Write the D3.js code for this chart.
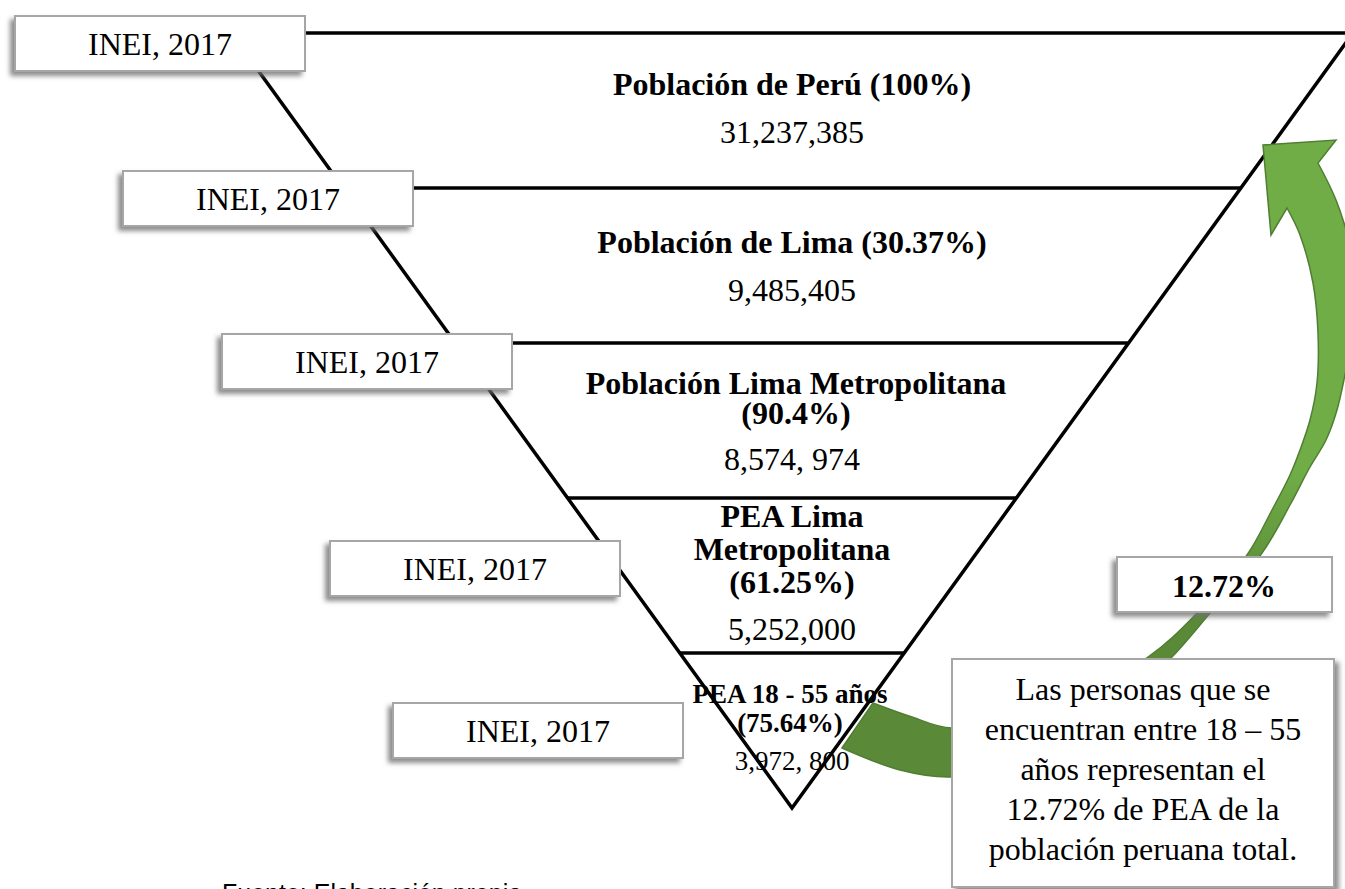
<!DOCTYPE html>
<html>
<head>
<meta charset="utf-8">
<script src="https://cdn.jsdelivr.net/npm/d3@7"></script>
<style>
  body { margin: 0; background: #fff; }
  svg { display: block; }
</style>
</head>
<body>
<svg id="chart" width="1345" height="889"></svg>
<script>
// ---------------- DATA ----------------
const levelTitles = [
  ["Población de Perú (100%)"],
  ["Población de Lima (30.37%)"],
  ["Población Lima Metropolitana", "(90.4%)"],
  ["PEA Lima", "Metropolitana", "(61.25%)"],
  ["PEA 18 - 55 años", "(75.64%)"]
];
const levelValues = ["31,237,385", "9,485,405", "8,574, 974", "5,252,000", "3,972, 800"];
const levelSources = ["INEI, 2017", "INEI, 2017", "INEI, 2017", "INEI, 2017", "INEI, 2017"];
const shareLabel = "12.72%";
const noteLines = [
  "Las personas que se",
  "encuentran entre 18 – 55",
  "años representan el",
  "12.72% de PEA de la",
  "población peruana total."
];
const footnote = "Fuente: Elaboración propia";

// ---------------- LAYOUT ----------------
const W = 1345, H = 889;
const svg = d3.select("#chart");
const serif = "'Liberation Serif', 'Times New Roman', serif";

const cx = 792;                         // apex x
const y = d3.scaleLinear().domain([0, levelTitles.length]).range([33, 808]);
const half = d3.scaleLinear().domain([0, levelTitles.length]).range([561, 0]);

// per-band text layout: first title baseline offset, title line height, value baseline offset, sizes
const bandText = [
  { t: 62, lh: 0,  v: 110, ts: 32, vs: 32, dx: 0 },
  { t: 65, lh: 0,  v: 113, ts: 32, vs: 32, dx: 0 },
  { t: 51, lh: 30, v: 127, ts: 32, vs: 32, dx: 4 },
  { t: 29, lh: 33, v: 142, ts: 32, vs: 32, dx: 0 },
  { t: 50, lh: 29, v: 117, ts: 27, vs: 27, dx: -2 }
];
// source boxes (left)
const sourceBoxes = [
  { x: 15,  y: 16 },
  { x: 123, y: 171 },
  { x: 222, y: 334 },
  { x: 330, y: 541 },
  { x: 393, y: 703 }
];
const boxW = 290, boxH = 55;

// defs: shadows + gradient
const defs = svg.append("defs");
function shadow(id, dx, dy) {
  const f = defs.append("filter").attr("id", id)
    .attr("x", "-10%").attr("y", "-20%").attr("width", "120%").attr("height", "150%");
  f.append("feDropShadow").attr("dx", dx).attr("dy", dy)
    .attr("stdDeviation", 2.5).attr("flood-color", "#6f6f6f").attr("flood-opacity", 0.8);
}
shadow("shL", -4, 4);
shadow("shR", 4, 4);

const grad = defs.append("linearGradient").attr("id", "arrowGrad")
  .attr("gradientUnits", "userSpaceOnUse")
  .attr("x1", 0).attr("y1", 470).attr("x2", 0).attr("y2", 600);
grad.append("stop").attr("offset", 0).attr("stop-color", "#70AD47");
grad.append("stop").attr("offset", 1).attr("stop-color", "#5A8A37");

// ---------------- FUNNEL ----------------
const lines = svg.append("g").attr("stroke", "#000").attr("stroke-width", 3.5).attr("fill", "none");
const n = levelTitles.length;
lines.append("path").attr("d", d3.line()([
  [cx - half(0), y(0)], [cx, y(n)], [cx + half(0), y(0)]
])).attr("stroke-linejoin", "miter");
d3.range(n).forEach(i => {
  const x0 = i === 0 ? 280 : cx - half(i);
  lines.append("line")
    .attr("x1", x0).attr("x2", i === 0 ? W + 20 : cx + half(i))
    .attr("y1", y(i)).attr("y2", y(i));
});

// labels
const labels = svg.append("g").attr("font-family", serif).attr("text-anchor", "middle").attr("fill", "#000");
levelTitles.forEach((tl, i) => {
  const L = bandText[i];
  tl.forEach((t, j) => {
    labels.append("text")
      .attr("x", cx + L.dx).attr("y", y(i) + L.t + j * L.lh)
      .attr("font-size", L.ts).attr("font-weight", "bold").text(t);
  });
  labels.append("text")
    .attr("x", cx).attr("y", y(i) + L.v)
    .attr("font-size", L.vs).text(levelValues[i]);
});

// ---------------- ARROW (annotation shape) ----------------
const arrowInner = [[873,703],[912,717],[952,728],[1050,708],[1148,657],[1199,611],[1247,555],
  [1272,510],[1290,475],[1300,450],[1310,420],[1317,383],[1318,333],[1313,283],[1300,235],[1287,208]];
const arrowHead = [[1271,235],[1263,145],[1336,140],[1318,163]];
const arrowOuter = [[1318,163],[1336,200],[1350,245],[1357,290],[1354,330],[1346,370],[1337,410],
  [1326,440],[1310,467],[1290,505],[1262,553],[1211,612],[1170,659],[1100,722],[1000,768],
  [950,777],[900,770],[842,748]];
const crv = d3.line().curve(d3.curveCatmullRom.alpha(0.5));
const arrowD = crv(arrowInner) + "L" + arrowHead.map(p => p.join(",")).join("L")
  + crv(arrowOuter).replace(/^M/, "L") + "Z";
svg.append("path").attr("d", arrowD)
  .attr("fill", "url(#arrowGrad)").attr("stroke", "#507E32").attr("stroke-width", 1.5)
  .attr("stroke-linejoin", "miter");

// ---------------- BOXES ----------------
function box(x, yy, w, h, filt) {
  svg.append("rect").attr("x", x).attr("y", yy).attr("width", w).attr("height", h)
    .attr("fill", "#fff").attr("stroke", "#a6a6a6").attr("stroke-width", 2)
    .attr("filter", `url(#${filt})`);
}

box(1117, 557, 215, 55, "shL");
svg.append("text").attr("x", 1224).attr("y", 597).attr("text-anchor", "middle")
  .attr("font-family", serif).attr("font-weight", "bold").attr("font-size", 32).text(shareLabel);

box(952, 659, 382, 228, "shR");
svg.append("g").attr("font-family", serif).attr("font-size", 32).attr("text-anchor", "middle")
  .selectAll("text").data(noteLines).join("text")
  .attr("x", 1143).attr("y", (d, i) => 700 + i * 40).text(d => d);

sourceBoxes.forEach((b, i) => {
  box(b.x, b.y, boxW, boxH, "shL");
  svg.append("text").attr("x", b.x + boxW / 2).attr("y", b.y + 39)
    .attr("text-anchor", "middle").attr("font-family", serif).attr("font-size", 32)
    .text(levelSources[i]);
});

// footnote (cut off by the page edge, as in the reference)
svg.append("text").attr("x", 222).attr("y", 902)
  .attr("font-family", "'Liberation Sans', Arial, sans-serif").attr("font-size", 25)
  .text(footnote);
</script>
</body>
</html>
